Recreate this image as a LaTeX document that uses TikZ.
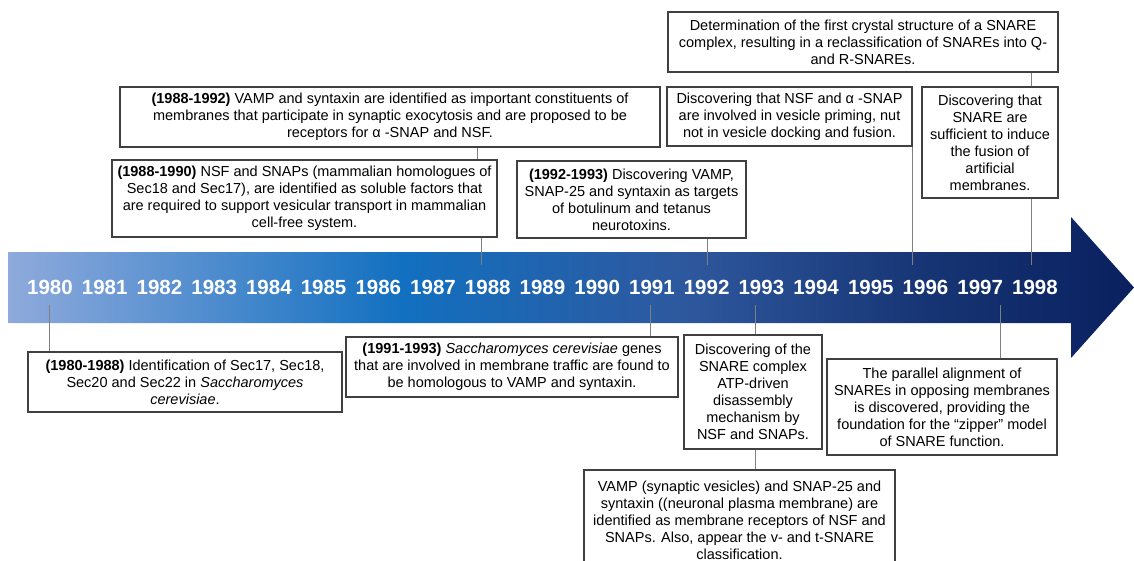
\documentclass[tikz,border=0pt]{standalone}
\usepackage{fontspec}
\setmainfont{Liberation Sans}
\definecolor{boxgray}{HTML}{404040}
\definecolor{conngray}{HTML}{7F7F7F}
\definecolor{ga}{RGB}{143,170,220}
\definecolor{gb}{RGB}{18,112,192}
\definecolor{gc}{RGB}{46,88,158}
\definecolor{gd}{RGB}{22,52,115}
\definecolor{ge}{RGB}{10,32,95}
\pgfdeclarehorizontalshading{arrowgrad}{100bp}{color(0bp)=(ga); color(25bp)=(ga); color(42.5bp)=(gb); color(55bp)=(gc); color(66bp)=(gd); color(75bp)=(ge); color(100bp)=(ge)}
\tikzset{
  evbox/.style={draw=boxgray, line width=1.1pt, fill=white, inner sep=0pt, align=center,
    font=\fontsize{14.5}{17}\selectfont},
  conn/.style={draw=conngray, line width=1pt},
  yearlbl/.style={text=white, font=\fontsize{20.5}{24}\selectfont\bfseries, inner sep=0pt}
}
\begin{document}
\begin{tikzpicture}[x=1pt,y=-1pt]
\useasboundingbox (0,0) rectangle (1134,560);
\clip (0,0) rectangle (1134,560);
% arrow
\shade[shading=arrowgrad] (8,252) -- (1071,252) -- (1071,217) -- (1134,287.5) -- (1071,358) -- (1071,323) -- (8,323) -- cycle;
\foreach \i in {0,...,18}{
  \pgfmathtruncatemacro{\yr}{1980+\i}
  \node[yearlbl] (yr\i) at ({50+54.72*\i},287) {\yr};
}
% connector end points on the arrow
\coordinate (p80) at (49,305);
\coordinate (p88) at (481,265);
\coordinate (p91) at (650,305);
\coordinate (p92) at (707,265);
\coordinate (p93) at (755,305);
\coordinate (p96) at (912,265);
\coordinate (p97) at (1000,305);
\coordinate (p98) at (1031,265);
\coordinate (q88) at (477,150);
% upper boxes
\node[evbox, minimum width=390, minimum height=60] (T) at (863,42)
 {Determination of the first crystal structure of a SNARE\\complex, resulting in a reclassification of SNAREs into Q-\\and R-SNAREs.};
\node[evbox, minimum width=540, minimum height=60] (A) at (390,117)
 {\textbf{(1988-1992)} VAMP and syntaxin are identified as important constituents of\\membranes that participate in synaptic exocytosis and are proposed to be\\receptors for α -SNAP and NSF.};
\node[evbox, minimum width=245, minimum height=59] (D) at (789.5,116.5)
 {Discovering that NSF and α -SNAP\\are involved in vesicle priming, nut\\not in vesicle docking and fusion.};
\node[evbox, minimum width=136, minimum height=111] (E) at (990,142.5)
 {Discovering that\\SNARE are\\sufficient to induce\\the fusion of\\artificial\\membranes.};
\node[evbox, minimum width=385, minimum height=77] (B) at (304.5,198.5)
 {\textbf{(1988-1990)} NSF and SNAPs (mammalian homologues of\\Sec18 and Sec17), are identified as soluble factors that\\are required to support vesicular transport in mammalian\\cell-free system.};
\node[evbox, minimum width=229, minimum height=77] (C) at (631.5,199.5)
 {\textbf{(1992-1993)} Discovering VAMP,\\SNAP-25 and syntaxin as targets\\of botulinum and tetanus\\neurotoxins.};
% lower boxes
\node[evbox, minimum width=314, minimum height=60] (F) at (185,382)
 {\textbf{(1980-1988)} Identification of Sec17, Sec18,\\Sec20 and Sec22 in \textit{Saccharomyces}\\\textit{cerevisiae}.};
\node[evbox, minimum width=332, minimum height=60] (G) at (512,367)
 {\textbf{(1991-1993)} \textit{Saccharomyces cerevisiae} genes\\that are involved in membrane traffic are found to\\be homologous to VAMP and syntaxin.};
\node[evbox, minimum width=138, minimum height=114] (H) at (753,392)
 {Discovering of the\\SNARE complex\\ATP-driven\\disassembly\\mechanism by\\NSF and SNAPs.};
\node[evbox, minimum width=230, minimum height=96] (I) at (942,407)
 {The parallel alignment of\\SNAREs in opposing membranes\\is discovered, providing the\\foundation for the “zipper” model\\of SNARE function.};
\node[evbox, minimum width=311, minimum height=100] (J) at (739.5,520)
 {VAMP (synaptic vesicles) and SNAP-25 and\\syntaxin ((neuronal plasma membrane) are\\identified as membrane receptors of NSF and\\SNAPs. Also, appear the v- and t-SNARE\\classification.};
% connectors
\draw[conn] (p80) -- (F.north -| p80);
\draw[conn] (A.south -| q88) -- (B.north -| q88);
\draw[conn] (B.south -| p88) -- (p88);
\draw[conn] (p91) -- (G.north -| p91);
\draw[conn] (C.south -| p92) -- (p92);
\draw[conn] (p93) -- (H.north -| p93);
\draw[conn] (H.south -| p93) -- (J.north -| p93);
\draw[conn] (D.south -| p96) -- (p96);
\draw[conn] (p97) -- (I.north -| p97);
\draw[conn] (T.south -| p98) -- (E.north -| p98);
\draw[conn] (E.south -| p98) -- (p98);
\end{tikzpicture}
\end{document}
